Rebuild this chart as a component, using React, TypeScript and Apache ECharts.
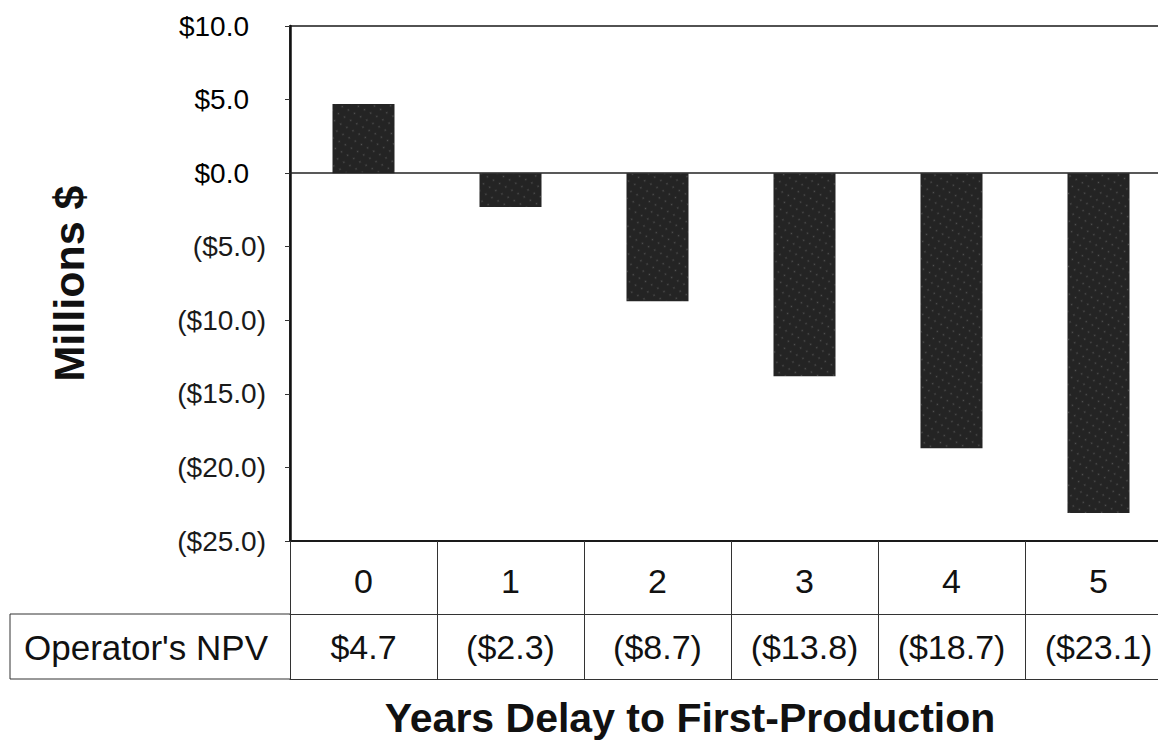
import React, { useEffect, useRef } from "react";
import * as echarts from "echarts";

const categories = ["0", "1", "2", "3", "4", "5"];
const npvValues = [4.7, -2.3, -8.7, -13.8, -18.7, -23.1];
const yTicks = { min: -25, max: 10, interval: 5 };
const rowHeader = "Operator's NPV";
const xTitle = "Years Delay to First-Production";
const yTitle = "Millions $";

const FONT = "'Liberation Sans', Arial, sans-serif";

const money = (v: number) =>
  v >= 0 ? `$${v.toFixed(1)}` : `($${Math.abs(v).toFixed(1)})`;

export default function App() {
  const ref = useRef<HTMLDivElement>(null);
  useEffect(() => {
    if (!ref.current) return;
    const chart = echarts.init(ref.current, null, { renderer: "svg" });
    chart.setOption({
      animation: false,
      backgroundColor: "#ffffff",
      textStyle: { fontFamily: FONT },
      grid: {
        left: 290,
        top: 26,
        right: -14,
        bottom: 211,
        show: true,
        borderColor: "#1a1a1a",
        borderWidth: 1.5,
        outerBoundsMode: "none",
      },
      xAxis: [
        {
          type: "category",
          data: categories,
          position: "bottom",
          axisLine: { onZero: false, lineStyle: { color: "#1a1a1a", width: 2 } },
          axisTick: { show: true, length: 138, lineStyle: { color: "#333", width: 1 } },
          axisLabel: { fontSize: 34, color: "#111", margin: 23, fontFamily: FONT },
        },
        {
          type: "category",
          data: categories,
          position: "bottom",
          offset: 73,
          axisLine: { onZero: false, lineStyle: { color: "#333", width: 1 } },
          axisTick: { show: false },
          axisLabel: {
            fontSize: 34,
            color: "#111",
            margin: 16,
            fontFamily: FONT,
            formatter: (_v: string, i: number) => money(npvValues[i]),
          },
        },
        {
          type: "category",
          data: categories,
          position: "bottom",
          offset: 138,
          axisLine: { onZero: false, lineStyle: { color: "#333", width: 1 } },
          axisTick: { show: false },
          axisLabel: { show: false },
        },
      ],
      yAxis: {
        type: "value",
        min: yTicks.min,
        max: yTicks.max,
        interval: yTicks.interval,
        splitLine: { show: false },
        axisLine: { show: true, lineStyle: { color: "#111", width: 2.5 } },
        axisTick: { show: true, length: 5, lineStyle: { color: "#333" } },
        axisLabel: {
          fontSize: 28,
          color: "#1a1a1a",
          margin: 24,
          fontFamily: FONT,
          formatter: (v: number) => (v >= 0 ? `{p|${money(v)}}` : money(v)),
          rich: {
            p: { fontSize: 28, fontFamily: FONT, color: "#000", padding: [0, 17, 0, 0] },
          },
        },
        name: yTitle,
        nameLocation: "middle",
        nameRotate: 90,
        nameGap: 200,
        nameTextStyle: { fontSize: 43, fontWeight: "bold", color: "#111", fontFamily: FONT },
      },
      series: [
        {
          type: "bar",
          data: npvValues,
          xAxisIndex: 0,
          barWidth: 62,
          itemStyle: {
            color: "#242424",
            decal: {
              symbol: "circle",
              symbolSize: 0.5,
              color: "rgba(255,255,255,0.22)",
              dashArrayX: [3, 4],
              dashArrayY: [3, 5],
              rotation: 0.5,
            },
          },
          markLine: {
            silent: true,
            symbol: "none",
            label: { show: false },
            lineStyle: { color: "#222", width: 1.5, type: "solid" },
            data: [{ yAxis: 0 }],
          },
        },
      ],
      graphic: [
        { type: "line", shape: { x1: 10, y1: 614, x2: 290, y2: 614 }, style: { stroke: "#333", lineWidth: 1 } },
        { type: "line", shape: { x1: 10, y1: 679, x2: 290, y2: 679 }, style: { stroke: "#333", lineWidth: 1 } },
        { type: "line", shape: { x1: 10, y1: 614, x2: 10, y2: 679 }, style: { stroke: "#333", lineWidth: 1 } },
        {
          type: "text",
          x: 24,
          y: 647,
          style: {
            text: rowHeader,
            fontSize: 35,
            fontFamily: FONT,
            fill: "#111",
            textAlign: "left",
            textVerticalAlign: "middle",
          },
        },
        {
          type: "text",
          x: 690,
          y: 718,
          style: {
            text: xTitle,
            fontSize: 41,
            fontWeight: "bold",
            fontFamily: FONT,
            fill: "#111",
            textAlign: "center",
            textVerticalAlign: "middle",
          },
        },
      ],
    });
    return () => chart.dispose();
  }, []);
  return (
    <div
      ref={ref}
      style={{ position: "fixed", left: 0, top: 0, width: 1158, height: 752 }}
    />
  );
}
